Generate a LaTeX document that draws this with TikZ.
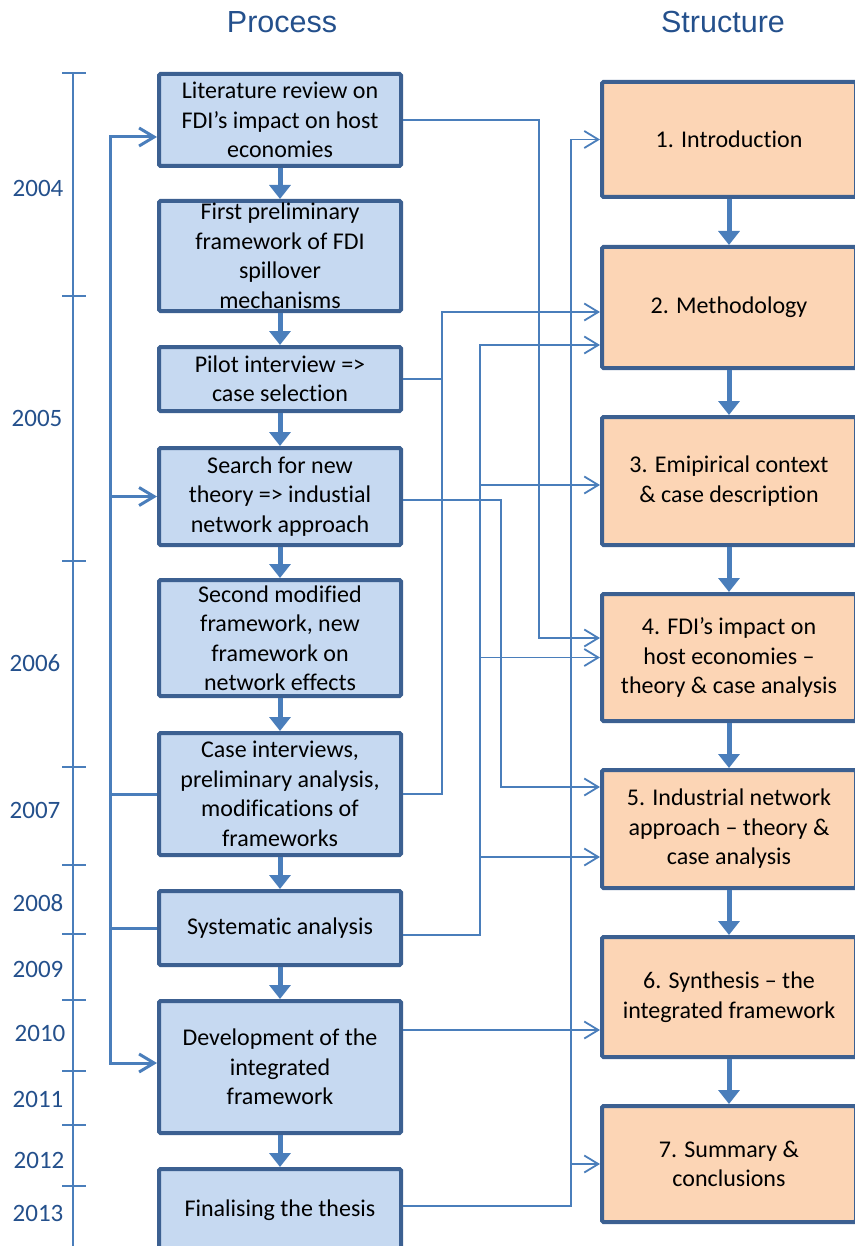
\documentclass[tikz,border=0pt]{standalone}
\usepackage{fontspec}
\setmainfont{Carlito}[Ligatures=NoCommon]
\newfontfamily\headfont{Liberation Sans}
\usetikzlibrary{arrows.meta}
\definecolor{procfill}{HTML}{C6D9F1}
\definecolor{chapfill}{HTML}{FCD5B5}
\definecolor{boxline}{HTML}{3C6091}
\definecolor{link}{HTML}{4A7EBB}
\definecolor{headtext}{HTML}{24508C}

\begin{document}
\begin{tikzpicture}[x=1pt,y=-1pt,
  box/.style={draw=boxline, line width=4pt, rounded corners=1.5pt, inner sep=0pt,
    align=center, font=\fontsize{24}{29.5}\selectfont, text=black},
  procbox/.style={box, fill=procfill, minimum width=242pt},
  chapbox/.style={box, fill=chapfill, minimum width=254pt},
  flow/.style={draw=link, line width=5pt, -{Triangle[length=14pt,width=21pt]}},
  conn/.style={draw=link, line width=1.8pt, -{Straight Barb[length=14pt,width=17pt]}},
  connplain/.style={draw=link, line width=1.8pt},
  feed/.style={draw=link, line width=3pt},
  feedarrow/.style={feed, -{Straight Barb[length=15pt,width=18pt]}},
  tickline/.style={draw=link, line width=1.5pt},
  year/.style={text=headtext, font=\fontsize{25}{30}\selectfont},
  heading/.style={text=headtext, font=\headfont\fontsize{30.5}{36}\selectfont}
]
\useasboundingbox (0,0) rectangle (854,1246);

% column headings
\node[heading] (hproc) at (282,22.5) {Process};
\node[heading] (hstruct) at (723,22.5) {Structure};

% time axis
\draw[tickline] (73,73) -- (73,1250);
\foreach \ty in {73,296,561,767,865,934,1000,1071,1125,1186}
  \draw[tickline] (62,\ty) -- (86,\ty);
\node[year] (y04) at (38,188) {2004};
\node[year] (y05) at (37,418) {2005};
\node[year] (y06) at (35,663) {2006};
\node[year] (y07) at (35,810) {2007};
\node[year] (y08) at (38,903) {2008};
\node[year] (y09) at (38,969) {2009};
\node[year] (y10) at (40,1033) {2010};
\node[year] (y11) at (38,1099) {2011};
\node[year] (y12) at (39,1160) {2012};
\node[year] (y13) at (38,1213) {2013};

% process steps
\node[procbox, minimum height=92pt]  (b1) at (280,120)  {Literature review on\\FDI’s impact on host\\economies};
\node[procbox, minimum height=110pt] (b2) at (280,256)  {First preliminary\\framework of FDI\\spillover\\mechanisms};
\node[procbox, minimum height=64pt]  (b3) at (280,379)  {Pilot interview =>\\case selection};
\node[procbox, minimum height=97pt]  (b4) at (280,496.5){Search for new\\theory => industial\\network approach};
\node[procbox, minimum height=116pt] (b5) at (280,638)  {Second modified\\framework, new\\framework on\\network effects};
\node[procbox, minimum height=122pt] (b6) at (280,794)  {Case interviews,\\preliminary analysis,\\modifications of\\frameworks};
\node[procbox, minimum height=74pt]  (b7) at (280,928)  {Systematic analysis};
\node[procbox, minimum height=132pt] (b8) at (280,1067) {Development of the\\integrated\\framework};
\node[procbox, minimum height=82pt]  (b9) at (280,1210) {Finalising the thesis};

% thesis chapters
\node[chapbox, minimum height=115pt] (s1) at (729,139.5) {1. Introduction};
\node[chapbox, minimum height=121pt] (s2) at (729,307.5) {2. Methodology};
\node[chapbox, minimum height=128pt] (s3) at (729,481)   {3. Emipirical context\\\& case description};
\node[chapbox, minimum height=127pt] (s4) at (729,657.5) {4. FDI’s impact on\\host economies –\\theory \& case analysis};
\node[chapbox, minimum height=118pt] (s5) at (729,829)   {5. Industrial network\\approach – theory \&\\case analysis};
\node[chapbox, minimum height=120pt] (s6) at (729,997)   {6. Synthesis – the\\integrated framework};
\node[chapbox, minimum height=116pt] (s7) at (729,1164)  {7. Summary \&\\conclusions};

% sequence arrows
\foreach \a/\b in {b1/b2,b2/b3,b3/b4,b4/b5,b5/b6,b6/b7,b7/b8,b8/b9,s1/s2,s2/s3,s3/s4,s4/s5,s5/s6,s6/s7}
  \draw[flow] (\a.south) -- (\b.north);

% feedback bus on the left
\coordinate (bus) at (110,0);
\coordinate (a1) at ([yshift=-17pt]b1.west);
\coordinate (a4) at (b4.west);
\coordinate (a8) at ([yshift=4pt]b8.west);
\draw[feed] (bus |- b6.west) -- (bus |- b7.west);
\draw[feedarrow] (b6.west) -| (bus |- a1) -- (a1);
\draw[feedarrow] (b7.west) -| (bus |- a8) -- (a8);
\draw[feedarrow] (bus |- a4) -- (a4);

% links from process steps to chapters
\coordinate (tA) at (539,0);
\coordinate (tB) at (571,0);
\coordinate (tC) at (442,0);
\coordinate (tD) at (480,0);
\coordinate (tE) at (501,0);
\coordinate (b4e) at ([yshift=-3.5pt]b4.east);
\coordinate (b7e) at ([yshift=-7pt]b7.east);
\coordinate (b8e) at ([yshift=37pt]b8.east);
\coordinate (b9e) at ([yshift=4pt]b9.east);
\coordinate (e1)  at (s1.west);
\coordinate (e2a) at ([yshift=-4.5pt]s2.west);
\coordinate (e2b) at ([yshift=-37.5pt]s2.west);
\coordinate (e3)  at ([yshift=-4pt]s3.west);
\coordinate (e4a) at ([yshift=19.5pt]s4.west);
\coordinate (e4b) at (s4.west);
\coordinate (e5a) at ([yshift=42pt]s5.west);
\coordinate (e5b) at ([yshift=-28pt]s5.west);
\coordinate (e6)  at (s6.west |- b8e);
\coordinate (e7)  at (s7.west);

\draw[conn] (b1.east) -| (tA |- e4a) -- (e4a);
\draw[conn] (b9e) -| (tB |- e1) -- (e1);
\draw[conn] (tB |- e7) -- (e7);
\draw[conn] (b3.east) -| (tC |- e2a) -- (e2a);
\draw[connplain] (b6.east) -| (tC |- b3.east);
\draw[conn] (b7e) -| (tD |- e2b) -- (e2b);
\draw[conn] (tD |- e3) -- (e3);
\draw[conn] (tD |- e4b) -- (e4b);
\draw[conn] (tD |- e5b) -- (e5b);
\draw[conn] (b4e) -| (tE |- e5a) -- (e5a);
\draw[conn] (b8e) -- (e6);
\end{tikzpicture}
\end{document}
